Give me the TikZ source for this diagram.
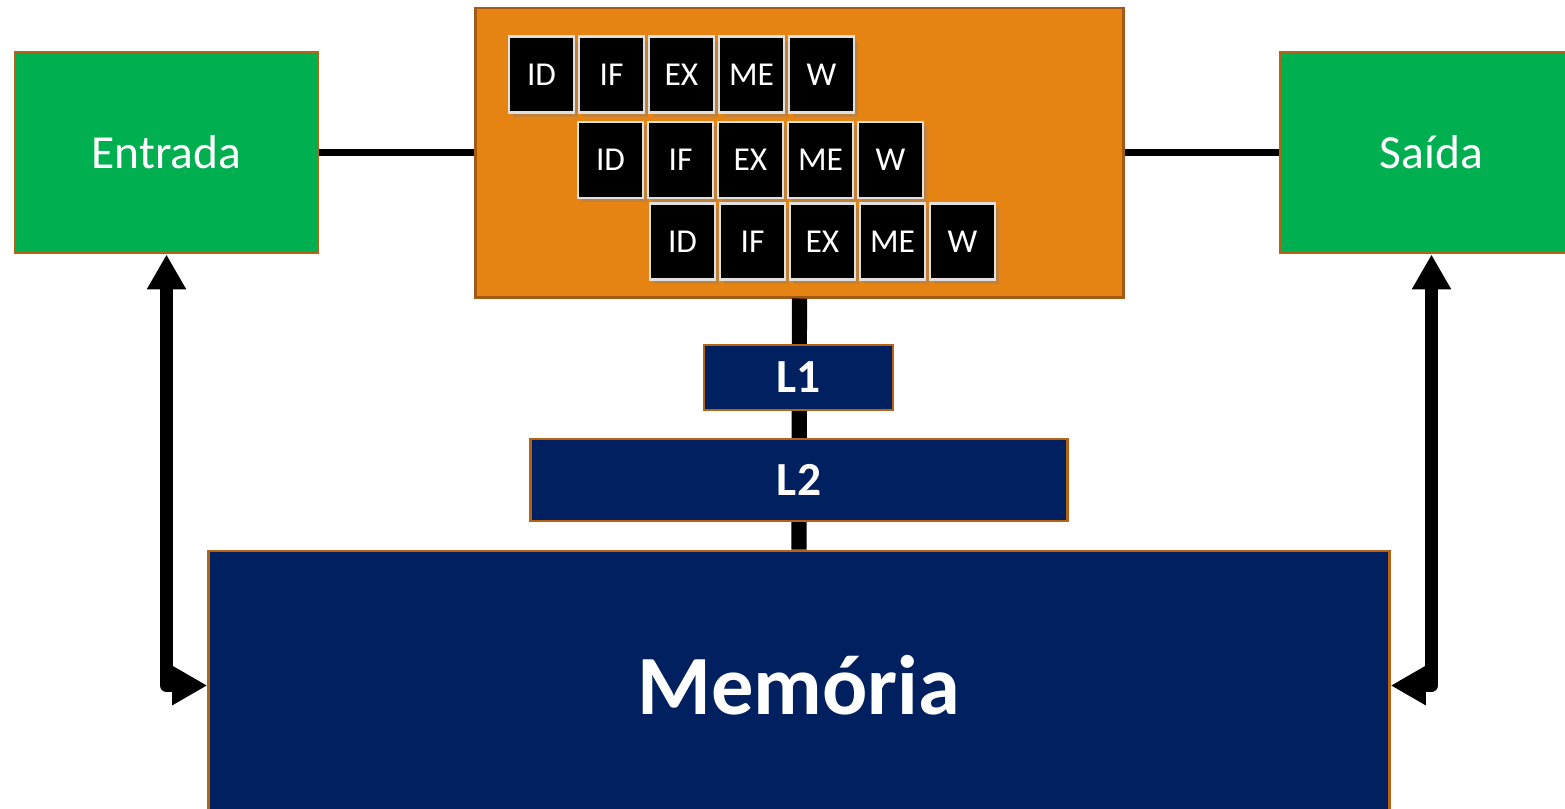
\documentclass[tikz,border=0pt]{standalone}
\usepackage{fontspec}
\setmainfont{Carlito}
\usetikzlibrary{arrows.meta,shadows}

\definecolor{cpuorange}{RGB}{229,131,19}
\definecolor{boxedge}{RGB}{181,100,22}
\definecolor{iogreen}{RGB}{0,176,80}
\definecolor{memblue}{RGB}{0,32,96}

\tikzset{
    unit/.style={draw=boxedge, line width=0.8pt, text=white, inner sep=0pt},
    stage/.style={draw=black!12, fill=black, text=white, line width=0.6pt,
        minimum width=0.65cm, minimum height=0.76cm, inner sep=0pt,
        font=\fontsize{9.5}{11}\selectfont,
        drop shadow={shadow xshift=1.2pt, shadow yshift=-1.2pt, opacity=0.35}},
    link/.style={line width=3.7pt, line join=round,
        {Triangle[length=0.35cm,width=0.37cm]}-{Triangle[length=0.35cm,width=0.37cm]}}
}

\begin{document}
\begin{tikzpicture}[x=0.01cm, y=-0.01cm]
                \useasboundingbox (0,0) rectangle (1565,808);

                \node [unit, fill=iogreen, minimum width=3.03cm, minimum height=2.01cm,
                    font=\fontsize{13.5}{16}\selectfont] (entrada) at (166.5,152.5) {Entrada};
                \node [unit, fill=iogreen, minimum width=3.03cm, minimum height=2.01cm,
                    font=\fontsize{13.5}{16}\selectfont] (saida) at (1431.5,152.5) {Saída};
                \node [unit, fill=cpuorange, draw=boxedge!90!black, minimum width=6.47cm,
                    minimum height=2.89cm] (cpu) at (799.5,152.5) {};
                \node [unit, fill=memblue, minimum width=11.8cm, minimum height=2.69cm,
                    font=\fontsize{24}{28}\selectfont\bfseries] (mem) at (799,685.5) {Memória};
%
                % three overlapping instructions in the pipeline
                \foreach \row/\xs/\ys in {0/541.5/74.5, 1/610.5/160, 2/682.5/241.5}
                    \foreach \lbl [count=\i from 0] in {ID,IF,EX,ME,W}
                        \node [stage] (st\row\i) at (\xs+\i*70,\ys) {\lbl};
%
                \draw [line width=2.1pt] (entrada.east) -- (cpu.west);
                \draw [line width=2.1pt] (cpu.east) -- (saida.west);
                \draw [line width=4.3pt] (cpu.south) -- (mem.north);
%
                \node [unit, fill=memblue, minimum width=1.89cm, minimum height=0.65cm,
                    font=\fontsize{13.5}{16}\selectfont\bfseries] (l1) at (798.5,377.5) {L1};
                \node [unit, fill=memblue, minimum width=5.36cm, minimum height=0.82cm,
                    font=\fontsize{13.5}{16}\selectfont\bfseries] (l2) at (799,480) {L2};
%
                \draw [link] (entrada.south) |- (mem.west);
                \draw [link] (saida.south) |- (mem.east);
            \end{tikzpicture}
\end{document}
